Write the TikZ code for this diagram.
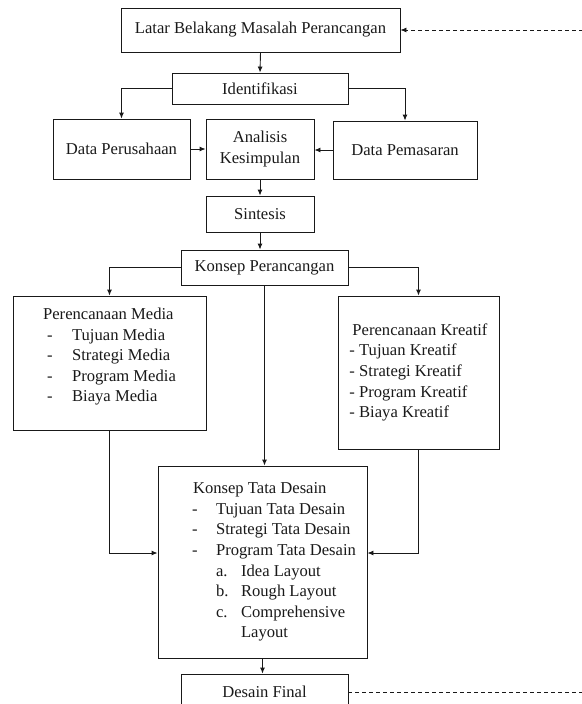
\documentclass[tikz,border=0pt]{standalone}
\usepackage{fontspec}
\setmainfont{Liberation Serif}
\usepackage{tikz}
\usetikzlibrary{arrows.meta, calc, positioning}
\definecolor{mainBlack}{gray}{0.1}

\begin{document}
\begin{tikzpicture}[x=1pt, y=-1pt, >={Latex[length=6pt,width=5pt]},
    kotak/.style={draw, mainBlack, line width=0.9pt, inner sep=0pt, align=center,
        font=\fontsize{16.6}{20.6}\selectfont},
    panah/.style={->, line width=0.9pt, mainBlack},
    putus/.style={->, line width=0.8pt, mainBlack, dash pattern=on 4pt off 3pt}]
    \useasboundingbox (0,0) rectangle (581,704);
    
    \node[kotak, minimum width=279pt, minimum height=44pt] (latar) at (260.5,30) {Latar Belakang Masalah Perancangan};
    \node[kotak, minimum width=176pt, minimum height=31pt] (ident) at (260,88.5) {Identifikasi};
    \node[kotak, minimum width=137pt, minimum height=60pt] (perus) at (121.5,149) {Data Perusahaan};
    \node[kotak, minimum width=108pt, minimum height=60pt] (analisis) at (260,149) {Analisis\\Kesimpulan};
    \node[kotak, minimum width=144pt, minimum height=58pt] (pemas) at (405,150) {Data Pemasaran};
    \node[kotak, minimum width=108pt, minimum height=36pt] (sintesis) at (260,214) {Sintesis};
    \node[kotak, minimum width=167pt, minimum height=35pt] (konsep) at (264.5,267.5) {Konsep Perancangan};
    
    \node[kotak, minimum width=193pt, minimum height=134pt, align=left] (media) at (109.5,363) {%
        Perencanaan Media\\
        \hspace*{4pt}\makebox[25pt][l]{-}Tujuan Media\\
        \hspace*{4pt}\makebox[25pt][l]{-}Strategi Media\\
        \hspace*{4pt}\makebox[25pt][l]{-}Program Media\\
        \hspace*{4pt}\makebox[25pt][l]{-}Biaya Media\\[-4.6pt]};
    \node[kotak, minimum width=161pt, minimum height=153pt, align=left] (kreatif) at (418.5,372.5) {%
        \hspace*{3pt}Perencanaan Kreatif\\
        - Tujuan Kreatif\\
        - Strategi Kreatif\\
        - Program Kreatif\\
        - Biaya Kreatif};
    \node[kotak, minimum width=209pt, minimum height=192pt, align=left] (tata) at (262.5,562) {%
        \hspace*{24pt}Konsep Tata Desain\\
        \hspace*{23pt}\makebox[24pt][l]{-}Tujuan Tata Desain\\
        \hspace*{23pt}\makebox[24pt][l]{-}Strategi Tata Desain\\
        \hspace*{23pt}\makebox[24pt][l]{-}Program Tata Desain\\
        \hspace*{47pt}\makebox[25pt][l]{a.}Idea Layout\\
        \hspace*{47pt}\makebox[25pt][l]{b.}Rough Layout\\
        \hspace*{47pt}\makebox[25pt][l]{c.}Comprehensive\\
        \hspace*{72pt}Layout};
    \node[kotak, minimum width=167pt, minimum height=36pt] (final) at (264.5,692) {Desain Final};
    
    \coordinate (balikBawah) at (600,692);
    \coordinate (balikAtas) at (600,30);
    
    \draw[panah] (latar.south) -- (ident.north);
    \draw[panah] (ident.west) -| (perus.north);
    \draw[panah] (ident.east) -| (pemas.north);
    \draw[panah] (perus.east) -- (analisis.west);
    \draw[panah] (pemas.west) -- (analisis.east |- pemas.west);
    \draw[panah] (analisis.south) -- (sintesis.north);
    \draw[panah] (sintesis.south) -- (sintesis.south |- konsep.north);
    \draw[panah] (konsep.west) -| (media.north);
    \draw[panah] (konsep.east) -| (kreatif.north);
    \draw[panah] (konsep.south) -- (konsep.south |- tata.north);
    \draw[panah] (media.south) |- ([yshift=9pt]tata.west);
    \draw[panah] (kreatif.south) |- ([yshift=9pt]tata.east);
    \draw[panah] (tata.south) -- (tata.south |- final.north);
    \draw[putus] (final.east) -- (balikBawah) -- (balikAtas) -- (latar.east);
\end{tikzpicture}
\end{document}
